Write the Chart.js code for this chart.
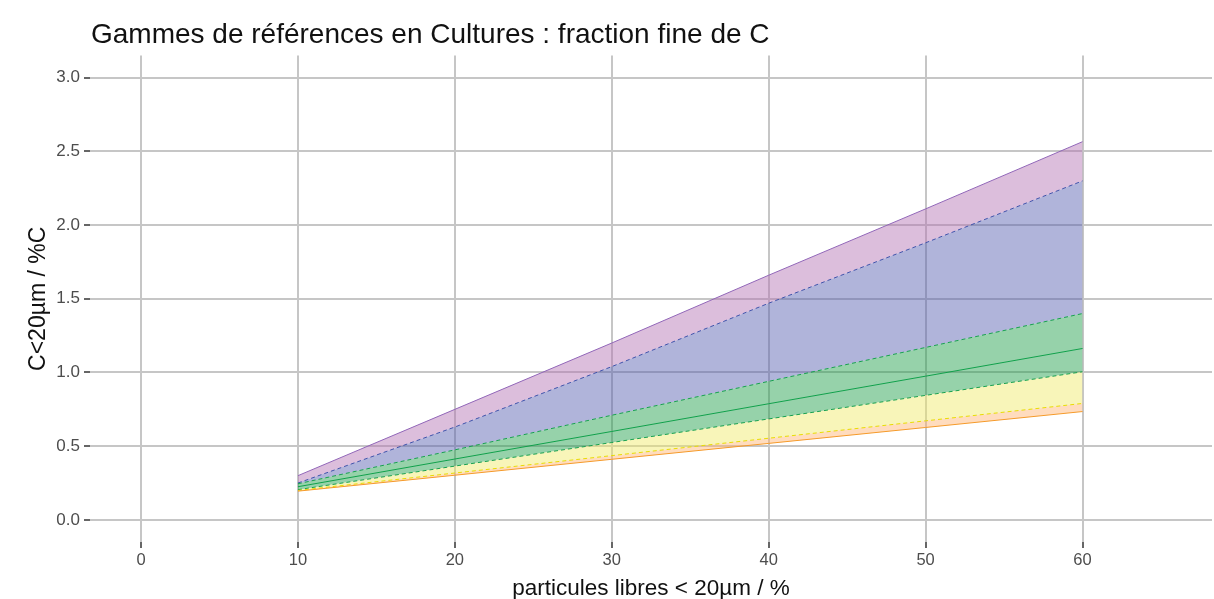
<!DOCTYPE html>
<html>
<head>
<meta charset="utf-8">
<script src="https://cdn.jsdelivr.net/npm/chart.js@4/dist/chart.umd.min.js"></script>
<style>
  html, body { margin: 0; background: #fff; }
  #wrap { width: 1214px; height: 599px; }
</style>
</head>
<body>
<div id="wrap"><canvas id="myChart"></canvas></div>
<script>
// particules libres < 20µm (%)
let particules = [10, 20, 30, 40, 50, 60];
// C<20µm (%C) band limits
let orangeLow = [0.195, 0.303, 0.411, 0.519, 0.627, 0.735];
let yellowLow = [0.2, 0.318, 0.436, 0.554, 0.672, 0.79];
let greenLow = [0.205, 0.365, 0.525, 0.685, 0.845, 1.005];
let greenMid = [0.225, 0.413, 0.6, 0.788, 0.975, 1.163];
let greenHigh = [0.245, 0.475, 0.71, 0.94, 1.17, 1.4];
let blueHigh = [0.25, 0.63, 1.04, 1.47, 1.88, 2.3];
let purpleHigh = [0.3, 0.75, 1.2, 1.66, 2.11, 2.566];

let xTicks = [0, 10, 20, 30, 40, 50, 60];
let yTicks = [0, 0.5, 1, 1.5, 2, 2.5, 3];

const FONT = "'Liberation Sans', Arial, sans-serif";

function pts(arr) {
  return arr.map((v, i) => ({ x: particules[i], y: v }));
}

function line(arr, color, dashed, fill, bg) {
  return {
    data: pts(arr),
    borderColor: color,
    borderWidth: 1,
    borderDash: dashed ? [4, 3] : [],
    pointRadius: 0,
    tension: 0,
    fill: fill,
    backgroundColor: bg,
  };
}

let datasets = [
  line(orangeLow, "#f59a2a", false, false, "transparent"),
  line(yellowLow, "#e8dc00", true, "-1", "rgba(255,178,111,0.45)"),
  line(greenLow, "#16a04e", true, "-1", "rgba(240,233,100,0.45)"),
  line(greenMid, "#0fa04a", false, "-1", "rgba(22,156,67,0.45)"),
  line(greenHigh, "#16a04e", true, "-1", "rgba(22,156,67,0.45)"),
  line(blueHigh, "#3f52aa", true, "-1", "rgba(80,89,173,0.45)"),
  line(purpleHigh, "#9166b8", false, "-1", "rgba(178,111,178,0.45)"),
];

// put the title over the plot panel, like ggplot does
const titleShift = {
  id: "titleShift",
  afterLayout(chart) {
    if (chart.titleBlock) chart.titleBlock.left = chart.chartArea.left + 1;
  },
};

let myChart = new Chart(document.getElementById("myChart"), {
  type: "line",
  data: { datasets: datasets },
  plugins: [titleShift],
  options: {
    responsive: true,
    maintainAspectRatio: false,
    animation: false,
    layout: { padding: { left: 0, right: 2, top: 0, bottom: 0 } },
    plugins: {
      legend: { display: false },
      tooltip: { enabled: false },
      title: {
        display: true,
        text: "Gammes de références en Cultures : fraction fine de C",
        align: "start",
        color: "#111",
        font: { family: FONT, size: 28, weight: "normal" },
        padding: { top: 18, bottom: 4 },
      },
    },
    scales: {
      x: {
        type: "linear",
        min: -3.25,
        max: 68.25,
        afterBuildTicks: (s) => { s.ticks = xTicks.map((v) => ({ value: v })); },
        afterFit: (s) => { s.height = 57; },
        border: { display: false },
        grid: { color: "#c6c6c6", lineWidth: 2, tickColor: "#333", tickLength: 6, tickWidth: 1.5 },
        ticks: { color: "#4d4d4d", font: { family: FONT, size: 16.5 }, padding: 3, maxRotation: 0 },
        title: {
          display: true,
          text: "particules libres < 20µm / %",
          color: "#111",
          font: { family: FONT, size: 22.5 },
          padding: { top: 0, bottom: -3 },
        },
      },
      y: {
        min: -0.15,
        max: 3.15,
        afterBuildTicks: (s) => { s.ticks = yTicks.map((v) => ({ value: v })); },
        afterFit: (s) => { s.width = 90; },
        border: { display: false },
        grid: { color: "#c6c6c6", lineWidth: 2, tickColor: "#333", tickLength: 6, tickWidth: 1.5 },
        ticks: {
          color: "#4d4d4d",
          font: { family: FONT, size: 17 },
          padding: 4,
          callback: (v) => v.toFixed(1),
        },
        title: {
          display: true,
          text: "C<20µm / %C",
          color: "#111",
          font: { family: FONT, size: 23 },
          padding: { top: 25, bottom: 0 },
        },
      },
    },
  },
});
</script>
</body>
</html>
